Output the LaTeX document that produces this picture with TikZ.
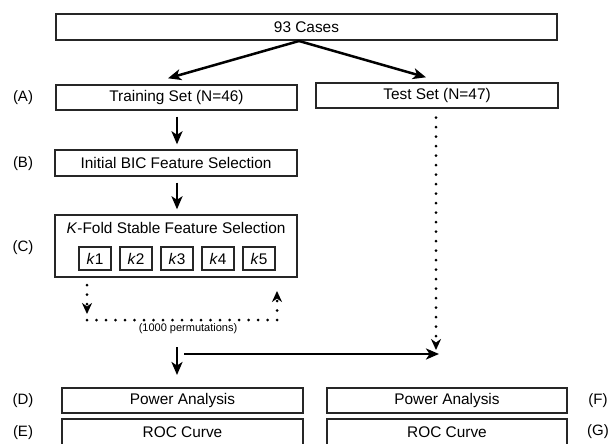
\documentclass[tikz,border=0pt]{standalone}
\usepackage{fontspec}
\setmainfont{Liberation Sans}
\usetikzlibrary{arrows.meta,calc}
\begin{document}
\begin{tikzpicture}[x=1pt,y=-1pt,
  box/.style={draw=black!85,line width=1.4pt,inner sep=0pt,font=\fontsize{15.4}{17}\selectfont},
  kbox/.style={draw=black!85,line width=1.4pt,inner sep=0pt,minimum width=32pt,minimum height=23pt,font=\fontsize{15.4}{17}\selectfont},
  lab/.style={font=\fontsize{15}{17}\selectfont},
  arr/.style={line width=2.5pt,-{Stealth[length=13pt,width=11pt,inset=3.5pt]}},
  dotarr/.style={line width=3pt,line cap=round,dash pattern=on 0pt off 9.5pt,-{Stealth[length=11pt,width=10pt,inset=3.5pt]}},
  dotline/.style={line width=3pt,line cap=round,dash pattern=on 0pt off 9.5pt}]
\useasboundingbox (0,0) rectangle (608,444);
% boxes
\node[box,minimum width=501pt,minimum height=26pt] (cases) at (306.5,27) {93 Cases};
\node[box,minimum width=241pt,minimum height=25pt] (train) at (176.5,97.5) {Training Set (N=46)};
\node[box,minimum width=242pt,minimum height=25pt] (test) at (437,95.5) {Test Set (N=47)};
\node[box,minimum width=242pt,minimum height=26pt] (bic) at (176,163) {Initial BIC Feature Selection};
\node[box,minimum width=242pt,minimum height=62pt] (kfold) at (176,246) {};
\node[font=\fontsize{15.4}{17}\selectfont] (kttl) at (176,228) {\textit{K}-Fold Stable Feature Selection};
\node[kbox] (k1) at (95,258.5) {\textit{k}1};
\node[kbox] (k2) at (136,258.5) {\textit{k}2};
\node[kbox] (k3) at (177,258.5) {\textit{k}3};
\node[kbox] (k4) at (218,258.5) {\textit{k}4};
\node[kbox] (k5) at (259,258.5) {\textit{k}5};
\node[box,minimum width=241pt,minimum height=25pt] (powD) at (182.5,400.5) {Power Analysis};
\node[box,minimum width=241pt,minimum height=27pt] (rocE) at (182.5,432.5) {ROC Curve};
\node[box,minimum width=240pt,minimum height=25pt] (powF) at (447,400.5) {Power Analysis};
\node[box,minimum width=240pt,minimum height=27pt] (rocG) at (447,432.5) {ROC Curve};
% side labels
\node[lab] (lA) at (23,98) {(A)};
\node[lab] (lB) at (23,164) {(B)};
\node[lab] (lC) at (23,248) {(C)};
\node[lab] (lD) at (23,401) {(D)};
\node[lab] (lE) at (23,433) {(E)};
\node[lab] (lF) at (598,401) {(F)};
\node[lab] (lG) at (598,432) {(G)};
\node[font=\fontsize{11}{13}\selectfont] (perm) at (188,329) {(1000 permutations)};
% coordinates
\coordinate (apex) at (299,41);
\coordinate (lt) at (87,285);
\coordinate (lb) at (87,314);
\coordinate (hl) at (87,320);
\coordinate (hr) at (277,320);
\coordinate (rt) at (277,291);
\coordinate (d1) at (177,347);
\coordinate (d2) at (177,375);
\coordinate (h1) at (184,354);
\coordinate (h2) at (439,354);
\coordinate (t2) at (436,350);
% connectors
\draw[arr] (apex) -- ([xshift=-8.5pt,yshift=6pt]train.north);
\draw[arr] (apex) -- ([xshift=-11pt,yshift=5pt]test.north);
\draw[arr] ([xshift=0.5pt,yshift=-6pt]train.south) -- ([xshift=1pt,yshift=5pt]bic.north);
\draw[arr] ([xshift=1pt,yshift=-6pt]bic.south) -- ([xshift=1pt,yshift=5pt]kfold.north);
\draw[dotarr] (lt) -- (lb);
\draw[dotline] (hl) -- (hr);
\draw[dotarr] (hr) -- (rt);
\draw[dotarr] ([xshift=-1pt,yshift=-9pt]test.south) -- (t2);
\draw[arr] (d1) -- (d2);
\draw[arr] (h1) -- (h2);
\end{tikzpicture}
\end{document}
